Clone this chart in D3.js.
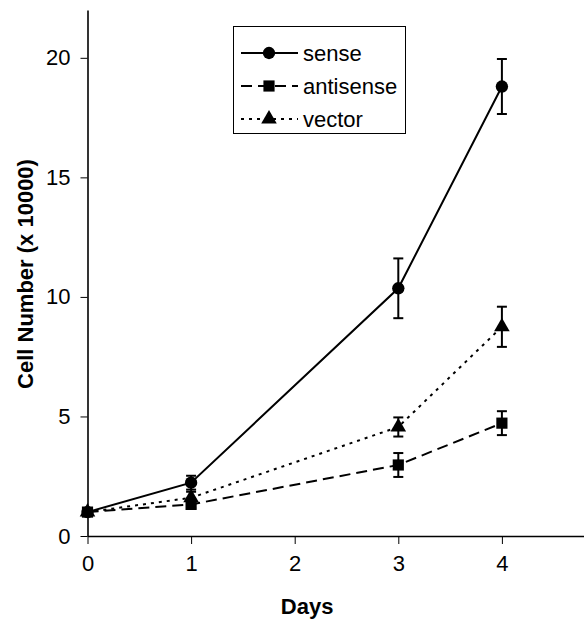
<!DOCTYPE html>
<html>
<head>
<meta charset="utf-8">
<script src="https://cdn.jsdelivr.net/npm/d3@7"></script>
<style>
  body { margin: 0; background: #fff; }
  svg { display: block; font-family: Arial, "Liberation Sans", sans-serif; }
</style>
</head>
<body>
<svg id="chart" width="584" height="619"></svg>
<script>
// Data
var days = [0, 1, 3, 4];
var senseMean = [1, 2.23, 10.36, 18.8];
var senseErr = [0, 0.29, 1.25, 1.15];
var antisenseMean = [1, 1.32, 2.97, 4.72];
var antisenseErr = [0, 0.15, 0.5, 0.5];
var vectorMean = [1, 1.6, 4.56, 8.75];
var vectorErr = [0, 0.25, 0.4, 0.84];
var yTicks = [0, 5, 10, 15, 20];
var xTicks = [0, 1, 2, 3, 4];

var series = [
    {name: 'sense', mean: senseMean, err: senseErr, symbol: d3.symbolCircle, dash: null, size: 120},
    {name: 'antisense', mean: antisenseMean, err: antisenseErr, symbol: d3.symbolSquare, dash: '11,6', size: 125},
    {name: 'vector', mean: vectorMean, err: vectorErr, symbol: d3.symbolTriangle, dash: '3,5', size: 105}
];

var fontSize = 22;
var svg = d3.select('#chart');

// Plot area: x 0 -> 87.5, y 0 -> 536
var x = d3.scaleLinear().domain([0, 5]).range([87.5, 605.5]);
var y = d3.scaleLinear().domain([0, 22]).range([536, 10]);

// y axis
var yAxis = d3.axisLeft(y).tickValues(yTicks).tickSize(7).tickPadding(10).tickSizeOuter(0);
var gy = svg.append('g').attr('transform', 'translate(87.5,0)').call(yAxis);
gy.select('.domain').attr('stroke', '#000').attr('stroke-width', 1.6);
gy.selectAll('.tick line').attr('stroke', '#000').attr('stroke-width', 1);
gy.selectAll('.tick text').attr('font-size', fontSize).attr('fill', '#000').attr('font-family', 'Arial, Liberation Sans, sans-serif');

// x axis
var xAxis = d3.axisBottom(x).tickValues(xTicks).tickFormat(d3.format('d'))
    .tickSize(8).tickPadding(11).tickSizeOuter(0);
var gx = svg.append('g').attr('transform', 'translate(0,536)').call(xAxis);
gx.select('.domain').attr('stroke', '#000').attr('stroke-width', 1.6);
gx.selectAll('.tick line').attr('stroke', '#000').attr('stroke-width', 1);
gx.selectAll('.tick text').attr('font-size', fontSize).attr('fill', '#000').attr('font-family', 'Arial, Liberation Sans, sans-serif');

// axis titles
svg.append('text')
    .attr('x', x(2.12)).attr('y', 614)
    .attr('text-anchor', 'middle')
    .attr('font-size', fontSize).attr('font-weight', 'bold')
    .text('Days');

svg.append('text')
    .attr('transform', 'translate(33,274) rotate(-90)')
    .attr('text-anchor', 'middle')
    .attr('font-size', fontSize).attr('font-weight', 'bold')
    .text('Cell Number (x 10000)');

var line = d3.line()
    .x(function(d) { return x(d.day); })
    .y(function(d) { return y(d.mean); });

var capHalf = 5;

series.forEach(function(s) {
    var pts = days.map(function(day, i) {
        return {day: day, mean: s.mean[i], err: s.err[i]};
    });
    var g = svg.append('g');

    g.append('path')
        .datum(pts)
        .attr('d', line)
        .attr('fill', 'none')
        .attr('stroke', '#000')
        .attr('stroke-width', 2)
        .attr('stroke-dasharray', s.dash);

    var bars = g.selectAll('.err')
        .data(pts.filter(function(d) { return d.err > 0; }))
        .enter().append('g');
    bars.append('line')
        .attr('x1', function(d) { return x(d.day); })
        .attr('x2', function(d) { return x(d.day); })
        .attr('y1', function(d) { return y(d.mean - d.err); })
        .attr('y2', function(d) { return y(d.mean + d.err); })
        .attr('stroke', '#000').attr('stroke-width', 2);
    [-1, 1].forEach(function(sign) {
        bars.append('line')
            .attr('x1', function(d) { return x(d.day) - capHalf; })
            .attr('x2', function(d) { return x(d.day) + capHalf; })
            .attr('y1', function(d) { return y(d.mean + sign * d.err); })
            .attr('y2', function(d) { return y(d.mean + sign * d.err); })
            .attr('stroke', '#000').attr('stroke-width', 2);
    });

    g.selectAll('.mark')
        .data(pts)
        .enter().append('path')
        .attr('transform', function(d) { return 'translate(' + x(d.day) + ',' + y(d.mean) + ')'; })
        .attr('d', d3.symbol().type(s.symbol).size(s.size))
        .attr('fill', '#000');
});

// legend
var legend = svg.append('g');
legend.append('rect')
    .attr('x', 233.5).attr('y', 26.5)
    .attr('width', 172).attr('height', 107)
    .attr('fill', '#fff').attr('stroke', '#000').attr('stroke-width', 1);

series.forEach(function(s, i) {
    var ly = 53 + i * 33;
    legend.append('line')
        .attr('x1', 241).attr('x2', 298)
        .attr('y1', ly).attr('y2', ly)
        .attr('stroke', '#000').attr('stroke-width', 2)
        .attr('stroke-dasharray', s.dash);
    legend.append('path')
        .attr('transform', 'translate(269,' + ly + ')')
        .attr('d', d3.symbol().type(s.symbol).size(s.size))
        .attr('fill', '#000');
    legend.append('text')
        .attr('x', 303).attr('y', ly + 8)
        .attr('font-size', fontSize)
        .text(s.name);
});
</script>
</body>
</html>
